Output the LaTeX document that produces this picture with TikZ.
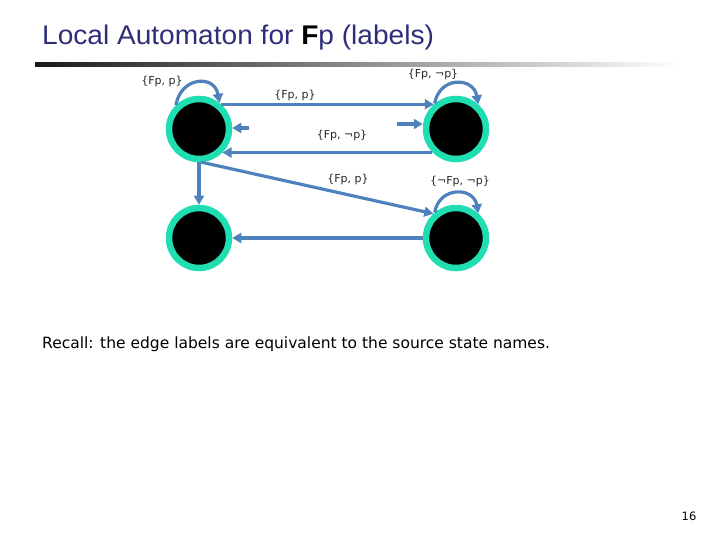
\documentclass[tikz,border=0pt]{standalone}
\usepackage{fontspec}
\setmainfont{DejaVu Sans}
\newfontfamily\titlefont{Liberation Sans}
\usetikzlibrary{arrows.meta}
\definecolor{ringc}{RGB}{32,222,178}
\definecolor{edgec}{RGB}{79,129,189}
\definecolor{titlec}{RGB}{46,46,120}
\tikzset{
  state/.style={circle,draw=ringc,line width=6.5pt,fill=black,minimum size=60pt,inner sep=0pt},
  edge/.style={draw=edgec,line width=3.2pt,-{Triangle[length=9pt,width=10pt]}},
  lbl/.style={font=\fontsize{11}{13}\selectfont,inner sep=0pt,text=black!85}
}
\begin{document}
\begin{tikzpicture}[x=1pt,y=-1pt]
\useasboundingbox (0,0) rectangle (720,540);
% title
\node[anchor=base west,inner sep=0pt,text=titlec,font=\titlefont\fontsize{27}{30}\selectfont,xscale=1.04] (title) at (42,45) {Local Automaton for \textbf{\color{black}F}p (labels)};
\shade[left color=black!90,right color=white] (35,63) rectangle (680,67);
% states
\node[state] (s1) at (199,129) {};
\node[state] (s2) at (456,129) {};
\node[state] (s3) at (199,238) {};
\node[state] (s4) at (456,238) {};
% initial arrows
\coordinate (i1) at (249,128);
\coordinate (i2) at (397,124);
\draw[edge] (i1) -- (i1 -| s1.east);
\draw[edge] (i2) -- (i2 -| s2.west);
% edges
\draw[edge] (s1.48) -- (s2.132);
\draw[edge] (s2.-135) -- (s1.-45);
\draw[edge] (s1.south) -- (s3.north);
\draw[edge] (s1.-86) -- (s4.133);
\draw[edge] (s4.west) -- (s3.east);
% loops
\draw[edge] (s1.134) .. controls +(-80:29) and +(-100:29) .. (s1.52);
\draw[edge] (s2.130) .. controls +(-80:28) and +(-100:28) .. (s2.48);
\draw[edge] (s4.130) .. controls +(-80:27) and +(-100:27) .. (s4.48);
% labels
\node[lbl] (l1) at (162,81) {\{Fp, p\}};
\node[lbl] (l2) at (433,74) {\{Fp, ¬p\}};
\node[lbl] (l3) at (295,95) {\{Fp, p\}};
\node[lbl] (l4) at (342,135) {\{Fp, ¬p\}};
\node[lbl] (l5) at (348,179) {\{Fp, p\}};
\node[lbl] (l6) at (460,181) {\{¬Fp, ¬p\}};
% text
\node[anchor=base west,inner sep=0pt,font=\fontsize{15.5}{18}\selectfont] (rec) at (42,348) {Recall: the edge labels are equivalent to the source state names.};
\node[anchor=base,inner sep=0pt,font=\fontsize{11.5}{13}\selectfont] (pg) at (689,520) {16};
\end{tikzpicture}
\end{document}
